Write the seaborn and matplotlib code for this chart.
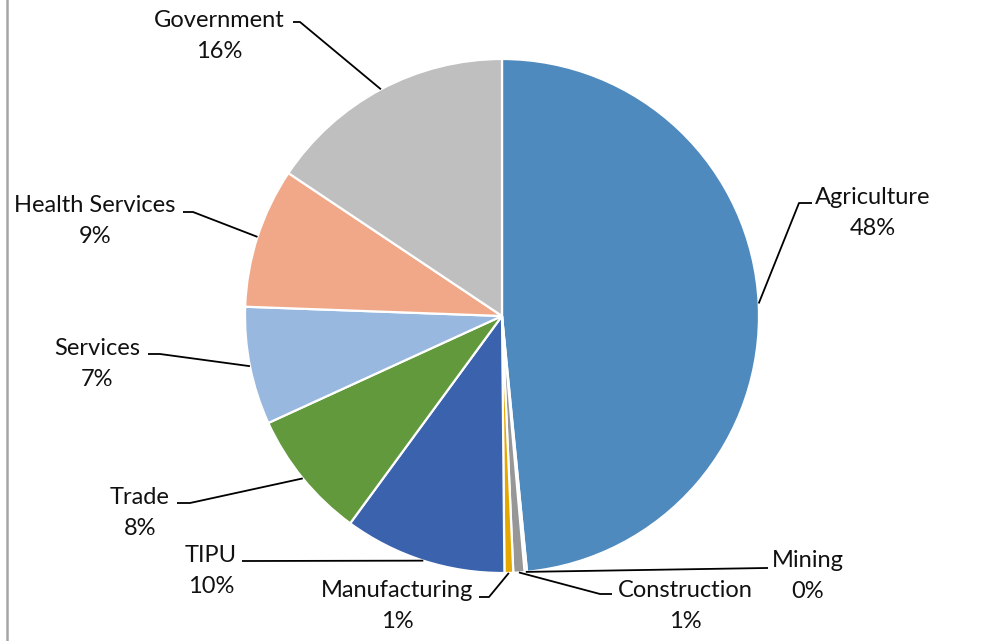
"""
Pie chart: employment share by sector, labels outside with leader lines.
"""

import matplotlib.pyplot as plt
import seaborn as sns
import numpy as np

# Data
sectors = ["Agriculture", "Mining", "Construction", "Manufacturing", "TIPU",
           "Trade", "Services", "Health Services", "Government"]
shares = [48.4, 0.15, 0.7, 0.55, 10.2, 8.1, 7.4, 8.8, 15.6]
colors = ["#4F8ABE", "#9DC3E6", "#979797", "#E5A800", "#3B63AD",
          "#63993D", "#98B8DF", "#F0A889", "#BFBFBF"]

W, H = 990, 641

# label layout in pixel coords (y from top): text centre, elbow, end of leader
label_pos = {
    "Agriculture": (873, 213), "Mining": (808, 576), "Construction": (685, 606),
    "Manufacturing": (397, 606), "TIPU": (211, 571), "Trade": (140, 513),
    "Services": (97, 364), "Health Services": (95, 221), "Government": (219, 36),
}
leader_pts = {
    "Agriculture": [(799, 203), (812, 203)],
    "Mining": [(766, 568), (768, 568)],
    "Construction": [(600, 594), (612, 594)],
    "Manufacturing": [(489, 597), (479, 597)],
    "TIPU": [(250, 561), (242, 561)],
    "Trade": [(190, 503), (177, 503)],
    "Services": [(160, 354), (148, 354)],
    "Health Services": [(193, 212), (183, 212)],
    "Government": [(300, 22), (293, 22)],
}


def main():
    sns.set_theme(style="white")
    plt.rcParams["font.family"] = ["Lato", "DejaVu Sans"]

    fig = plt.figure(figsize=(W / 100, H / 100), dpi=100)
    ax = fig.add_axes([0, 0, 1, 1])

    cx, cy, r = 502, 316, 257
    wedges, _ = ax.pie(shares, colors=colors, startangle=90, counterclock=False,
                       center=(cx, H - cy), radius=r,
                       wedgeprops=dict(edgecolor="white", linewidth=1.6))
    ax.set_xlim(0, W)
    ax.set_ylim(0, H)
    ax.set_aspect("equal")
    ax.set_axis_off()

    total = sum(shares)
    for w, name, v in zip(wedges, sectors, shares):
        # anchor on the rim at the middle of the wedge
        ang = np.deg2rad((w.theta1 + w.theta2) / 2)
        ax0 = cx + r * np.cos(ang)
        ay0 = (H - cy) + r * np.sin(ang)
        pts = [(ax0, ay0)] + [(x, H - y) for x, y in leader_pts[name]]
        xs, ys = zip(*pts)
        ax.plot(xs, ys, color="black", linewidth=1.3, solid_capstyle="butt")

        tx, ty = label_pos[name]
        ax.text(tx, H - ty, f"{name}\n{v / total * 100:.0f}%", ha="center",
                va="center", fontsize=17, linespacing=1.62, color="#111111")

    # grey frame edge on the left
    ax.plot([7, 7], [0, H], color="#A6A6A6", linewidth=1.8)

    fig.savefig("out.png", dpi=100)
    plt.close(fig)


if __name__ == "__main__":
    main()
